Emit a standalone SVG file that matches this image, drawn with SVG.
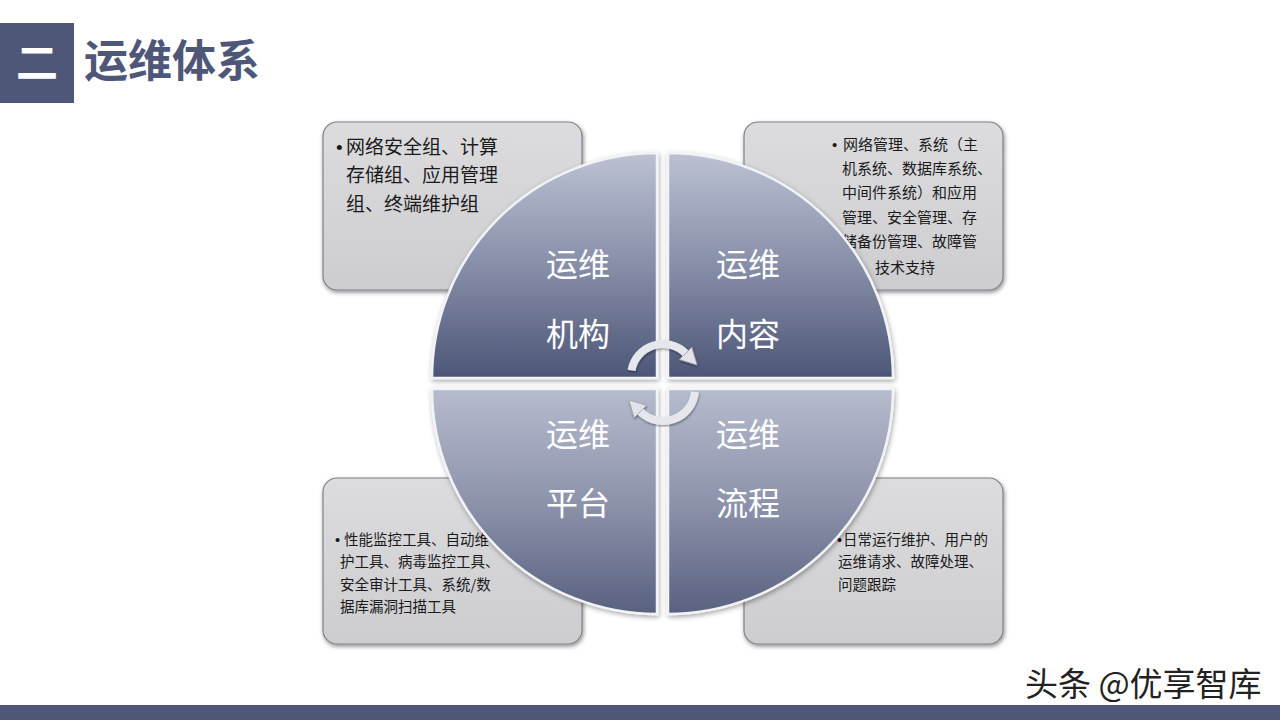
<svg xmlns="http://www.w3.org/2000/svg" width="1280" height="720" viewBox="0 0 1280 720">
<defs>
<linearGradient id="qg" x1="0" y1="0" x2="0" y2="1">
<stop offset="0" stop-color="#bcc1d2"/>
<stop offset="0.5" stop-color="#878ea8"/>
<stop offset="1" stop-color="#4c5677"/>
</linearGradient>
<linearGradient id="qg2" x1="0" y1="0" x2="0" y2="1">
<stop offset="0" stop-color="#b6bbcd"/>
<stop offset="0.5" stop-color="#8d93ab"/>
<stop offset="1" stop-color="#58617f"/>
</linearGradient>
<linearGradient id="bg" x1="0" y1="0" x2="0" y2="1">
<stop offset="0" stop-color="#dcdcdf"/>
<stop offset="1" stop-color="#cdcdd0"/>
</linearGradient>
<filter id="sh" x="-10%" y="-10%" width="130%" height="130%">
<feDropShadow dx="1" dy="2" stdDeviation="2" flood-color="#000" flood-opacity="0.45"/>
</filter>
<filter id="qsh" x="-10%" y="-10%" width="130%" height="130%">
<feDropShadow dx="1" dy="2" stdDeviation="2.5" flood-color="#000" flood-opacity="0.35"/>
</filter>
<filter id="ash" x="-20%" y="-20%" width="140%" height="140%">
<feDropShadow dx="0.5" dy="1.5" stdDeviation="1" flood-color="#000" flood-opacity="0.4"/>
</filter>
</defs>
<style>
.box{fill:url(#bg);stroke:#808088;stroke-width:1.2;filter:url(#sh)}
.q{stroke:#f2f3f7;stroke-width:2.5;filter:url(#qsh)}
.ql{font-family:"Noto Sans CJK SC",sans-serif;font-size:32px;fill:#ffffff;text-anchor:middle}
.t19{font-family:"Noto Sans CJK SC",sans-serif;font-size:19px;fill:#1a1a1a}
.t15{font-family:"Noto Sans CJK SC",sans-serif;font-size:15px;fill:#1a1a1a}
.t14{font-family:"Noto Sans CJK SC",sans-serif;font-size:14.5px;fill:#1a1a1a}
.bul{font-family:"Liberation Sans",sans-serif}
.arrow{filter:url(#ash)}
.arc{fill:none;stroke:#e6e7ec;stroke-width:8;stroke-linecap:butt}
.head{fill:#e2e3e8;stroke:#a3a5ae;stroke-width:0.8}
</style>
<rect width="1280" height="720" fill="#ffffff"/>
<g id="header">
<rect x="0" y="23" width="74" height="80" fill="#4e5778"/>
<text x="37" y="78" font-family="Noto Sans CJK SC,sans-serif" font-weight="bold" font-size="42" fill="#ffffff" text-anchor="middle">二</text>
<text x="84" y="77" font-family="Noto Sans CJK SC,sans-serif" font-weight="bold" font-size="44" fill="#4e5778">运维体系</text>
</g>
<g id="box-org">
<rect class="box" x="323" y="122" width="259" height="168" rx="14"/>
<text class="t19" x="336" y="154"><tspan class="bul">•</tspan><tspan x="346">网络安全组、计算</tspan></text>
<text class="t19" x="346" y="182">存储组、应用管理</text>
<text class="t19" x="346" y="211">组、终端维护组</text>
</g>
<g id="box-content">
<rect class="box" x="744" y="122" width="259" height="168" rx="14"/>
<text class="t15" x="832" y="150"><tspan class="bul">•</tspan><tspan x="843">网络管理、系统（主</tspan></text>
<text class="t15" x="842" y="174">机系统、数据库系统、</text>
<text class="t15" x="842" y="198">中间件系统）和应用</text>
<text class="t15" x="842" y="223">管理、安全管理、存</text>
<text class="t15" x="842" y="247">储备份管理、故障管</text>
<text class="t15" x="875" y="273">技术支持</text>
</g>
<g id="box-platform">
<rect class="box" x="323" y="478" width="259" height="166" rx="14"/>
<text class="t14" x="335" y="545"><tspan class="bul">•</tspan><tspan x="344">性能监控工具、自动维</tspan></text>
<text class="t14" x="340" y="567">护工具、病毒监控工具、</text>
<text class="t14" x="340" y="590">安全审计工具、系统/数</text>
<text class="t14" x="340" y="612">据库漏洞扫描工具</text>
</g>
<g id="box-process">
<rect class="box" x="744" y="478" width="259" height="166" rx="14"/>
<text class="t14" x="837" y="545"><tspan class="bul">•</tspan><tspan x="843">日常运行维护、用户的</tspan></text>
<text class="t14" x="838" y="567">运维请求、故障处理、</text>
<text class="t14" x="838" y="590">问题跟踪</text>
</g>
<g id="quad-org">
<path class="q" fill="url(#qg)" d="M432 378 A225 225 0 0 1 657 153 L657 378 Z"/>
<text class="ql" x="578" y="276">运维</text>
<text class="ql" x="578" y="346">机构</text>
</g>
<g id="quad-content">
<path class="q" fill="url(#qg)" d="M668 153 A225 225 0 0 1 893 378 L668 378 Z"/>
<text class="ql" x="748" y="276">运维</text>
<text class="ql" x="748" y="346">内容</text>
</g>
<g id="quad-platform">
<path class="q" fill="url(#qg2)" d="M432 389 L657 389 L657 614 A225 225 0 0 1 432 389 Z"/>
<text class="ql" x="578" y="446">运维</text>
<text class="ql" x="578" y="515">平台</text>
</g>
<g id="quad-process">
<path class="q" fill="url(#qg2)" d="M668 389 L893 389 A225 225 0 0 1 668 614 Z"/>
<text class="ql" x="748" y="446">运维</text>
<text class="ql" x="748" y="515">流程</text>
</g>
<g id="connectors">
<g class="arrow">
<path class="arc" d="M631.5 370.4 A32 32 0 0 1 685.6 353.4"/>
<polygon class="head" points="691.8,347.2 679.4,359.6 697,365"/>
</g>
<g class="arrow">
<path class="arc" d="M694.9 391.8 A32 32 0 0 1 640.4 411.6"/>
<polygon class="head" points="634.2,417.8 646.6,405.4 629,400"/>
</g>
</g>
<g id="watermark">
<text x="1027" y="698" font-family="Noto Sans CJK SC,sans-serif" font-size="33" fill="#ffffff" stroke="#ffffff" stroke-width="3">头条 @优享智库</text>
<text x="1025" y="696" font-family="Noto Sans CJK SC,sans-serif" font-size="33" fill="#222222">头条 @优享智库</text>
</g>
<rect id="footer" x="0" y="705" width="1280" height="15" fill="#4e5778"/>
</svg>
